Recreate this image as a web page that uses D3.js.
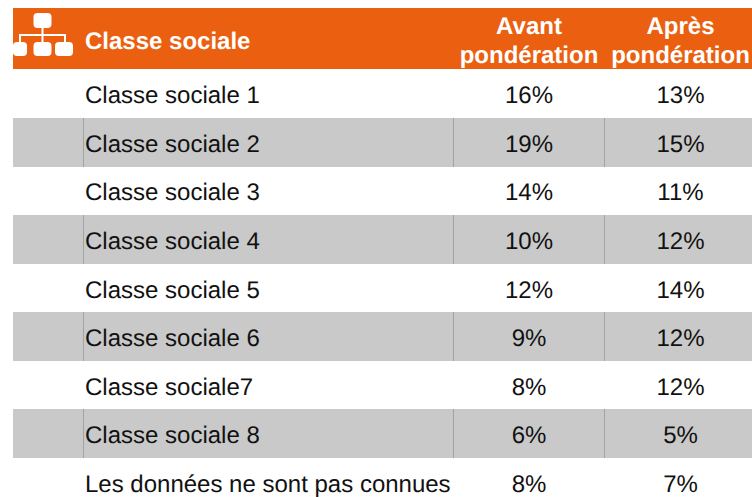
<!DOCTYPE html>
<html><head><meta charset="utf-8">
<script src="https://cdn.jsdelivr.net/npm/d3@7"></script>
<style>html,body{margin:0;padding:0;background:#fff}svg{display:block}text{font-family:"Liberation Sans",Arial,sans-serif;text-rendering:geometricPrecision}</style>
</head><body>
<script>
const categories=["Classe sociale 1","Classe sociale 2","Classe sociale 3","Classe sociale 4","Classe sociale 5","Classe sociale 6","Classe sociale7","Classe sociale 8","Les données ne sont pas connues"];
const avant=[16,19,14,10,12,9,8,6,8];
const apres=[13,15,11,12,14,12,12,5,7];
const headerLabel="Classe sociale";
const avantHeader=["Avant","pondération"];
const apresHeader=["Après","pondération"];
const W=752,H=497,fs=24;
const svg=d3.select("body").append("svg").attr("width",W).attr("height",H);
const y=d3.scaleBand().domain(d3.range(categories.length)).range([69.4,506.8]);
const rowTop=i=>Math.round(y(i)-0.2);
const orange="#EB5F10",grey="#C9C9C9",line="#A3A3A3";
svg.append("rect").attr("x",13).attr("y",8).attr("width",W-13).attr("height",61).attr("fill",orange);
svg.selectAll("rect.row").data(categories).join("rect").attr("class","row")
 .attr("x",13).attr("width",W-13).attr("y",(d,i)=>rowTop(i)).attr("height",49)
 .attr("fill",(d,i)=>i%2?grey:"none");
const xs=[83.5,453.5,604.5];
categories.forEach((c,i)=>{if(i%2)xs.forEach(x=>svg.append("line").attr("x1",x).attr("x2",x).attr("y1",rowTop(i)).attr("y2",rowTop(i)+49).attr("stroke",line).attr("stroke-width",1));});
const mid=i=>y(i)+y.bandwidth()/2+1.1;
const colA=529,colB=680.5;
svg.selectAll("text.cat").data(categories).join("text").attr("class","cat").attr("x",85).attr("y",(d,i)=>mid(i)).attr("dy","0.35em").attr("font-size",fs).attr("fill","#111").text(d=>d);
svg.selectAll("text.a").data(avant).join("text").attr("class","a").attr("x",colA).attr("y",(d,i)=>mid(i)).attr("dy","0.35em").attr("text-anchor","middle").attr("font-size",fs).attr("fill","#111").text(d=>d+"%");
svg.selectAll("text.b").data(apres).join("text").attr("class","b").attr("x",colB).attr("y",(d,i)=>mid(i)).attr("dy","0.35em").attr("text-anchor","middle").attr("font-size",fs).attr("fill","#111").text(d=>d+"%");
svg.append("text").attr("x",85).attr("y",49).attr("font-size",fs).attr("font-weight","bold").attr("fill","#fff").text(headerLabel);
[[avantHeader,529],[apresHeader,680.5]].forEach(([h,x])=>{
 h.forEach((t,i)=>svg.append("text").attr("x",x).attr("y",34+i*29).attr("text-anchor","middle").attr("font-size",fs).attr("font-weight","bold").attr("fill","#fff").text(t));
});
// org-chart icon
const ic=svg.append("g");
ic.append("path").attr("d","M42.5 26V35M20 44V35H65V44M42.5 35V44").attr("fill","none").attr("stroke","#fff").attr("stroke-width",2);
[[33.5,13,18,15],[13,42,14,14],[33.5,42,18,14],[55,42,18,14]].forEach(([x,yy,w,h])=>ic.append("rect").attr("x",x).attr("y",yy).attr("width",w).attr("height",h).attr("rx",4).attr("fill","#fff"));
</script>
</body></html>
